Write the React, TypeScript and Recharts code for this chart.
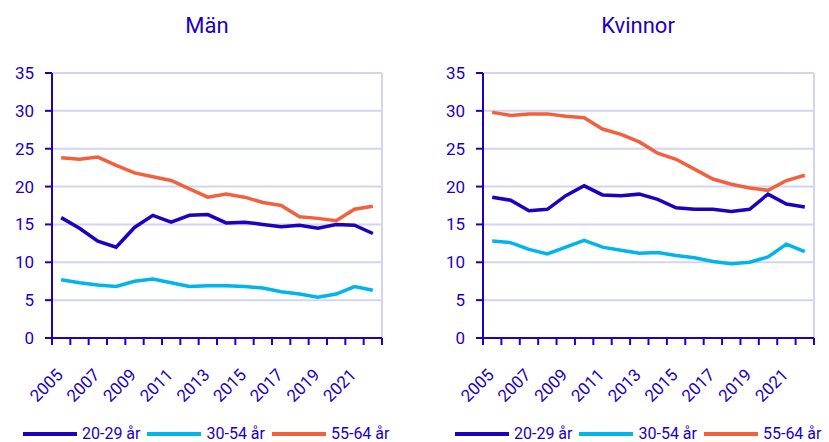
import { LineChart, Line, XAxis, YAxis, CartesianGrid, Legend, ReferenceLine } from 'recharts';

const years = [2005, 2006, 2007, 2008, 2009, 2010, 2011, 2012, 2013, 2014, 2015, 2016, 2017, 2018, 2019, 2020, 2021, 2022];
const yTicks = [0, 5, 10, 15, 20, 25, 30, 35];
const seriesNames = ['20-29 år', '30-54 år', '55-64 år'];

const menYoung = [15.9, 14.5, 12.8, 12.0, 14.6, 16.2, 15.3, 16.2, 16.3, 15.2, 15.3, 15.0, 14.7, 14.9, 14.5, 15.0, 14.9, 13.8];
const menMid = [7.7, 7.3, 7.0, 6.8, 7.5, 7.8, 7.3, 6.8, 6.9, 6.9, 6.8, 6.6, 6.1, 5.8, 5.4, 5.8, 6.8, 6.3];
const menOld = [23.8, 23.6, 23.9, 22.8, 21.8, 21.3, 20.8, 19.7, 18.6, 19.0, 18.6, 17.9, 17.5, 16.0, 15.8, 15.5, 17.0, 17.4];

const womenYoung = [18.6, 18.2, 16.8, 17.0, 18.8, 20.1, 18.9, 18.8, 19.0, 18.3, 17.2, 17.0, 17.0, 16.7, 17.0, 19.0, 17.7, 17.3];
const womenMid = [12.8, 12.6, 11.7, 11.1, 12.0, 12.9, 12.0, 11.6, 11.2, 11.3, 10.9, 10.6, 10.1, 9.8, 10.0, 10.7, 12.4, 11.4];
const womenOld = [29.8, 29.4, 29.6, 29.6, 29.3, 29.1, 27.6, 26.9, 25.9, 24.4, 23.6, 22.3, 21.0, 20.3, 19.8, 19.5, 20.8, 21.5];

const DARK = '#1e00be';
const LIGHT = '#00b4ec';
const ORANGE = '#f2603d';
const GRID = '#d4d4f0';
const COLORS = [DARK, LIGHT, ORANGE];
const FONT = 'Roboto, sans-serif';

// tick marks sit between the years, labels on every other year
const boundaries = years.map((y) => y - 0.5).concat(years[years.length - 1] + 0.5);

function YearTick(props: any) {
  const { x, y, payload } = props;
  const year = payload.value + 0.5;
  if (year % 2 === 0 || year > 2021) return <g />;
  const ax = x + 12;
  const ay = y + 29;
  return (
    <text
      x={ax}
      y={ay}
      textAnchor="end"
      fill={DARK}
      fontSize={17}
      fontFamily={FONT}
      transform={`rotate(-45, ${ax}, ${ay})`}
    >
      {year}
    </text>
  );
}

function LegendContent() {
  return (
    <div
      style={{
        display: 'flex',
        alignItems: 'center',
        height: 16,
        lineHeight: '16px',
        fontFamily: FONT,
        fontSize: 16,
        color: DARK,
        whiteSpace: 'nowrap',
      }}
    >
      {seriesNames.map((name, i) => (
        <div key={name} style={{ display: 'flex', alignItems: 'center', marginRight: 7 }}>
          <svg width={54} height={6} style={{ display: 'block' }}>
            <line x1={0} y1={3} x2={54} y2={3} stroke={COLORS[i]} strokeWidth={4} />
          </svg>
          <span style={{ marginLeft: 5 }}>{name}</span>
        </div>
      ))}
    </div>
  );
}

interface PanelProps {
  title: string;
  young: number[];
  mid: number[];
  old: number[];
  width: number;
  axisWidth: number;
  rightMargin: number;
  titleCenter: number;
  legendLeft: number;
}

function Panel({ title, young, mid, old, width, axisWidth, rightMargin, titleCenter, legendLeft }: PanelProps) {
  const data = years.map((year, i) => ({ year, young: young[i], mid: mid[i], old: old[i] }));
  return (
    <div style={{ position: 'relative', width, height: 442 }}>
      <div
        style={{
          position: 'absolute',
          left: titleCenter - 100,
          width: 200,
          top: 12,
          textAlign: 'center',
          fontFamily: FONT,
          fontSize: 22,
          color: DARK,
          lineHeight: '28px',
        }}
      >
        {title}
      </div>
      <LineChart width={width} height={442} data={data} margin={{ top: 73, right: rightMargin, left: 0, bottom: 26 }}>
        <CartesianGrid vertical={false} stroke={GRID} strokeWidth={2} />
        <ReferenceLine x={2022.5} stroke={GRID} strokeWidth={2} />
        <XAxis
          dataKey="year"
          type="number"
          domain={[2004.5, 2022.5]}
          ticks={boundaries}
          interval={0}
          height={62}
          axisLine={{ stroke: DARK, strokeWidth: 2 }}
          tickLine={{ stroke: DARK, strokeWidth: 2 }}
          tickSize={7}
          tick={<YearTick />}
        />
        <YAxis
          domain={[0, 35]}
          ticks={yTicks}
          interval={0}
          width={axisWidth}
          axisLine={{ stroke: DARK, strokeWidth: 2 }}
          tickLine={{ stroke: DARK, strokeWidth: 2 }}
          tickSize={7}
          tickMargin={11}
          tick={{ fill: DARK, fontSize: 17, fontFamily: FONT }}
        />
        <Line dataKey="young" name={seriesNames[0]} stroke={DARK} strokeWidth={3.5} dot={false} isAnimationActive={false} />
        <Line dataKey="mid" name={seriesNames[1]} stroke={LIGHT} strokeWidth={3.5} dot={false} isAnimationActive={false} />
        <Line dataKey="old" name={seriesNames[2]} stroke={ORANGE} strokeWidth={3.5} dot={false} isAnimationActive={false} />
        <Legend content={<LegendContent />} wrapperStyle={{ left: legendLeft, top: 426, width: 'auto', height: 16 }} />
      </LineChart>
    </div>
  );
}

export default function App() {
  return (
    <div style={{ position: 'absolute', left: 0, top: 0, width: 829, height: 442, display: 'flex', background: '#fff' }}>
      <Panel title="Män" young={menYoung} mid={menMid} old={menOld} width={414} axisWidth={52} rightMargin={32} titleCenter={207} legendLeft={23} />
      <Panel title="Kvinnor" young={womenYoung} mid={womenMid} old={womenOld} width={415} axisWidth={69} rightMargin={15} titleCenter={224} legendLeft={41} />
    </div>
  );
}
